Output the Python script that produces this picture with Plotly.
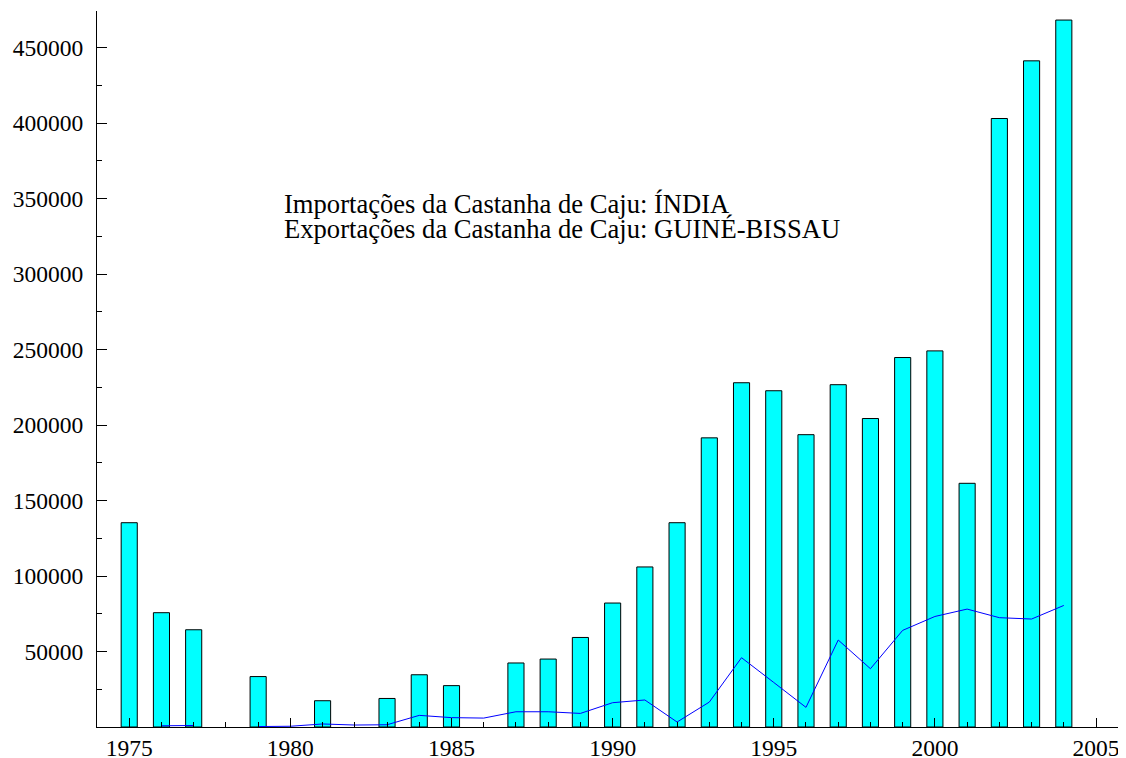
import plotly.graph_objects as go

# anos
years = list(range(1975, 2005))

# Importações da castanha de caju: Índia (barras)
imports_india = [135300, 75700, 64400, None, 33400, None, 17400, None, 18900, 34600,
                 27400, None, 42400, 45000, 59300, 82100, 106000, 135300, 191500, 228000,
                 222700, 193600, 226700, 204300, 244700, 249100, 161400, 403000, 441200, 468200]

# Exportações da castanha de caju: Guiné-Bissau (linha)
exports_gb = [None, 800, 1000, None, 300, 500, 2000, 1300, 1500, 7700,
              6200, 5900, 10100, 10100, 9000, 16100, 17900, 3300, 16500, 45900,
              29500, 13000, 57600, 38600, 64000, 73200, 78100, 72400, 71500, 80500]

y_major = [0, 50000, 100000, 150000, 200000, 250000, 300000, 350000, 400000, 450000]
y_labels = ["" if v == 0 else str(v) for v in y_major]

legend_lines = ["Importações da Castanha de Caju: ÍNDIA",
                "Exportações da Castanha de Caju: GUINÉ-BISSAU"]

font_serif = "Liberation Serif, Times New Roman, serif"

fig = go.Figure()

# barras
fig.add_trace(go.Bar(
    x=years,
    y=imports_india,
    width=0.5,
    marker=dict(color="#00ffff", line=dict(color="black", width=1)),
    name="Importações",
))

# linha
fig.add_trace(go.Scatter(
    x=years,
    y=exports_gb,
    mode="lines",
    line=dict(color="#0000ff", width=1),
    connectgaps=False,
    name="Exportações",
))

# texto (duas linhas, espaçamento apertado)
for i, txt in enumerate(legend_lines):
    fig.add_annotation(
        x=0.18, y=0.7305 - 0.0355 * i, xref="paper", yref="paper",
        xanchor="left", yanchor="middle", align="left", showarrow=False,
        text=txt,
        font=dict(family=font_serif, size=26.6, color="black"),
    )

# a página tem 8px de margem no body: figura 1118x750
fig.update_layout(
    width=1118, height=750,
    margin=dict(l=89, r=0, t=3, b=31),
    paper_bgcolor="white", plot_bgcolor="white",
    showlegend=False,
    font=dict(family=font_serif, size=23.5, color="black"),
    xaxis=dict(
        range=[1974, 2005.93],
        tickmode="linear", tick0=1975, dtick=5,
        ticks="inside", ticklen=9, tickwidth=1, tickcolor="black",
        minor=dict(ticks="inside", ticklen=5, dtick=1, tick0=1975, tickcolor="black", tickwidth=1),
        showline=True, linecolor="black", linewidth=1,
        showgrid=False, zeroline=False,
        ticklabelstandoff=0, automargin=False,
    ),
    yaxis=dict(
        range=[0, 474200],
        tickmode="array", tickvals=y_major, ticktext=y_labels,
        ticks="inside", ticklen=10, tickwidth=1, tickcolor="black",
        minor=dict(ticks="inside", ticklen=5, dtick=25000, tick0=0, tickcolor="black", tickwidth=1),
        showline=True, linecolor="black", linewidth=1,
        showgrid=False, zeroline=False,
        ticklabelstandoff=8, automargin=False,
    ),
)

fig.write_html("out.html")
